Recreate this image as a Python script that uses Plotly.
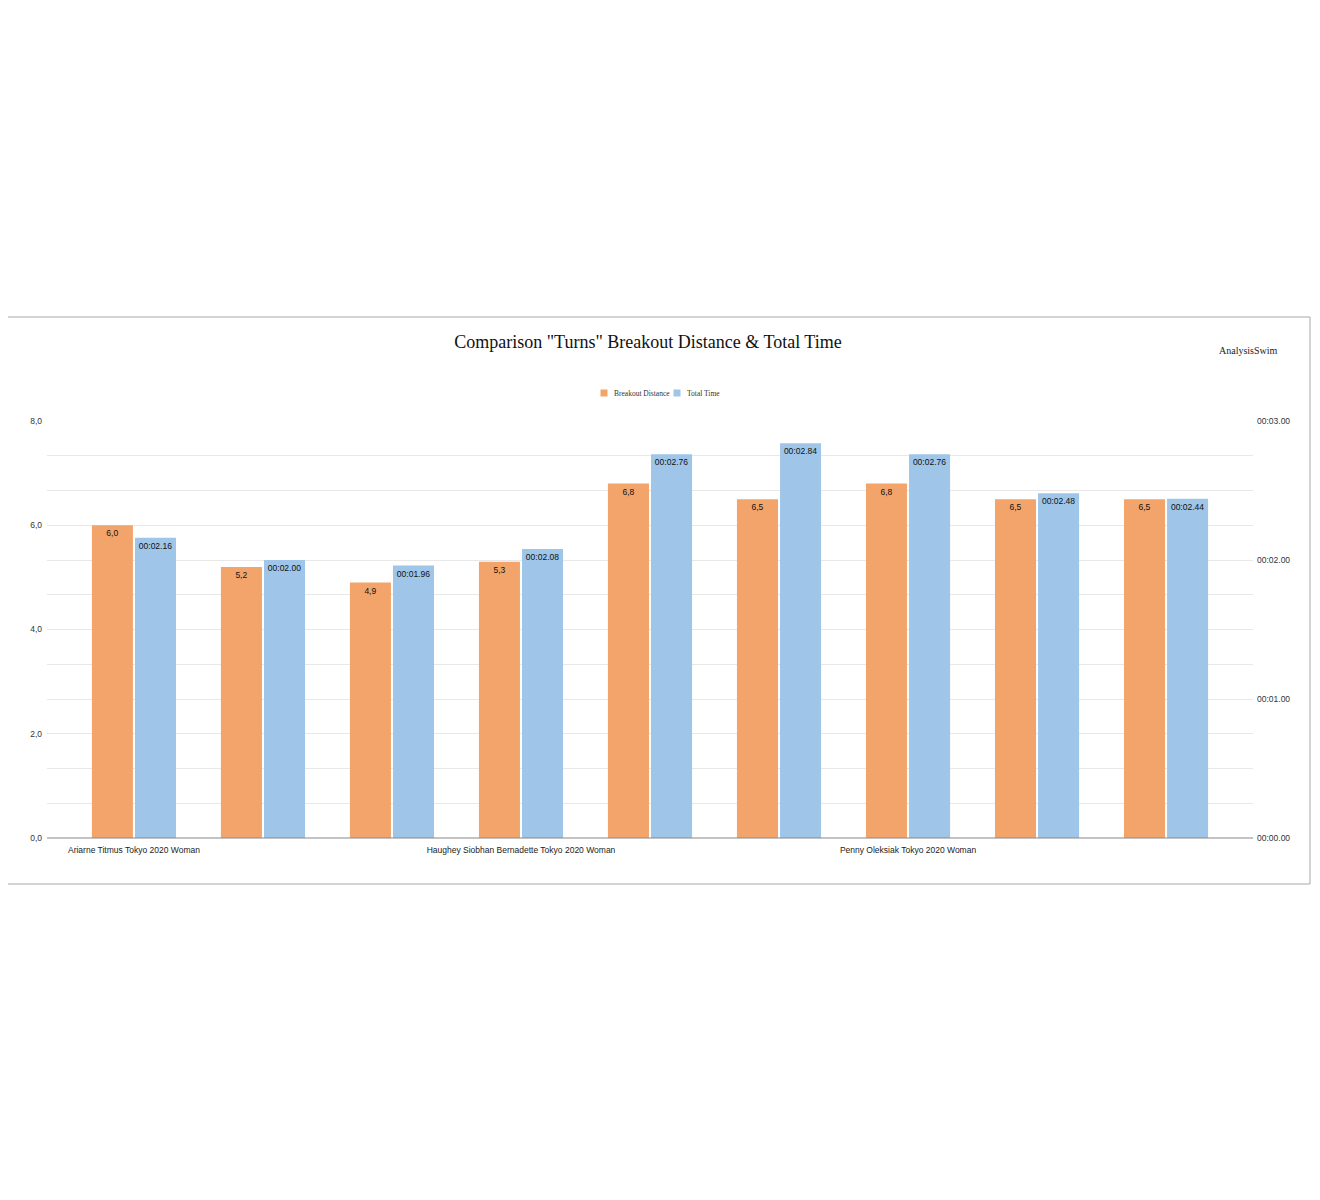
import plotly.graph_objects as go

# ---- data ----
turn_index = [0, 1, 2, 3, 4, 5, 6, 7, 8]
tick_labels = ["Ariarne Titmus Tokyo 2020 Woman", "", "",
               "Haughey Siobhan Bernadette Tokyo 2020 Woman", "", "",
               "Penny Oleksiak Tokyo 2020 Woman", "", ""]
breakout_distance = [6.0, 5.2, 4.9, 5.3, 6.8, 6.5, 6.8, 6.5, 6.5]
total_time_s = [2.16, 2.00, 1.96, 2.08, 2.76, 2.84, 2.76, 2.48, 2.44]
series_names = ["Breakout Distance", "Total Time"]
left_ticks = [0, 2, 4, 6, 8]
right_ticks = [i * 0.25 for i in range(13)]

def fmt_dist(v):
    return f"{v:.1f}".replace(".", ",")

def fmt_time(v):
    m = int(v // 60)
    s = v - 60 * m
    return f"{m:02d}:{s:05.2f}"

ORANGE = "#f2a46b"
BLUE = "#9fc5e8"
SANS = "Liberation Sans, Arial"
SERIF = "Liberation Serif, Times New Roman"

fig = go.Figure()
fig.add_trace(go.Bar(
    x=turn_index, y=breakout_distance, name=series_names[0],
    marker=dict(color=ORANGE, line=dict(width=0)),
    width=0.318, offset=-0.326,
    text=[fmt_dist(v) for v in breakout_distance],
    textposition="inside", insidetextanchor="end", textangle=0,
    textfont=dict(family=SANS, size=8.5, color="#111"),
    yaxis="y", cliponaxis=False,
))
fig.add_trace(go.Bar(
    x=turn_index, y=total_time_s, name=series_names[1],
    marker=dict(color=BLUE, line=dict(width=0)),
    width=0.318, offset=0.008,
    text=[fmt_time(v) for v in total_time_s],
    textposition="inside", insidetextanchor="end", textangle=0,
    textfont=dict(family=SANS, size=8.5, color="#111"),
    yaxis="y2", cliponaxis=False,
))

OFF = 8  # page body margin
W, H = 1320, 1200
L, R, T, B = 47 - OFF, 1253 - OFF, 421 - OFF, 838 - OFF
pw, ph = R - L, B - T

def px_x(x):
    return (x - OFF - L) / pw

def px_y(y):
    return (B - (y - OFF)) / ph

shapes = [
    dict(type="rect", xref="paper", yref="paper",
         x0=px_x(7), x1=px_x(1310), y0=px_y(884), y1=px_y(317),
         line=dict(color="#a8a8a8", width=1), fillcolor="rgba(0,0,0,0)", layer="below"),
    dict(type="line", xref="paper", yref="paper", x0=0, x1=1, y0=0, y1=0,
         line=dict(color="#888888", width=1.2), layer="above"),
]
annotations = [
    dict(text="AnalysisSwim", xref="paper", yref="paper", x=px_x(1248), y=px_y(350),
         xanchor="center", yanchor="middle", showarrow=False,
         font=dict(family=SERIF, size=10, color="#222")),
]
# compact legend
legend_items = [(604, series_names[0], ORANGE), (677, series_names[1], BLUE)]
for lx, name, col in legend_items:
    shapes.append(dict(type="rect", xref="paper", yref="paper",
                       x0=px_x(lx - 3.5), x1=px_x(lx + 3.5), y0=px_y(396.5), y1=px_y(389.5),
                       line=dict(width=0), fillcolor=col))
    annotations.append(dict(text=name, xref="paper", yref="paper", x=px_x(lx + 8), y=px_y(393),
                            xanchor="left", yanchor="middle", showarrow=False,
                            font=dict(family=SERIF, size=7.5, color="#333")))

fig.update_layout(
    width=W, height=H,
    margin=dict(l=L, r=W - R, t=T, b=H - B, pad=0),
    paper_bgcolor="white", plot_bgcolor="white",
    barmode="overlay",
    uniformtext=dict(minsize=8, mode="show"),
    showlegend=False,
    title=dict(text='Comparison "Turns" Breakout Distance &amp; Total Time',
               x=px_x(648), xanchor="center", y=1 - (342 - OFF) / H, yanchor="middle",
               xref="paper", yref="container",
               font=dict(family=SERIF, size=18, color="#111")),
    xaxis=dict(range=[-0.674, 8.674], tickmode="array", tickvals=turn_index, ticktext=tick_labels,
               showgrid=False, zeroline=False, showline=False, ticks="",
               ticklabelstandoff=5,
               tickfont=dict(family=SANS, size=8.5, color="#222")),
    yaxis=dict(range=[0, 8], tickmode="array", tickvals=left_ticks,
               ticktext=[fmt_dist(v) for v in left_ticks],
               showgrid=False, zeroline=False, ticks="",
               ticklabelstandoff=4,
               tickfont=dict(family=SANS, size=8.5, color="#333")),
    yaxis2=dict(range=[0, 3], overlaying="y", side="right", tickmode="array",
                tickvals=right_ticks,
                ticktext=[fmt_time(v) if abs(v - round(v)) < 1e-9 else "" for v in right_ticks],
                showgrid=True, gridcolor="#e8e8e8", gridwidth=1, zeroline=False, ticks="",
                ticklabelstandoff=3,
                tickfont=dict(family=SANS, size=8.5, color="#333")),
    shapes=shapes,
    annotations=annotations,
)

fig.write_html("out.html")
